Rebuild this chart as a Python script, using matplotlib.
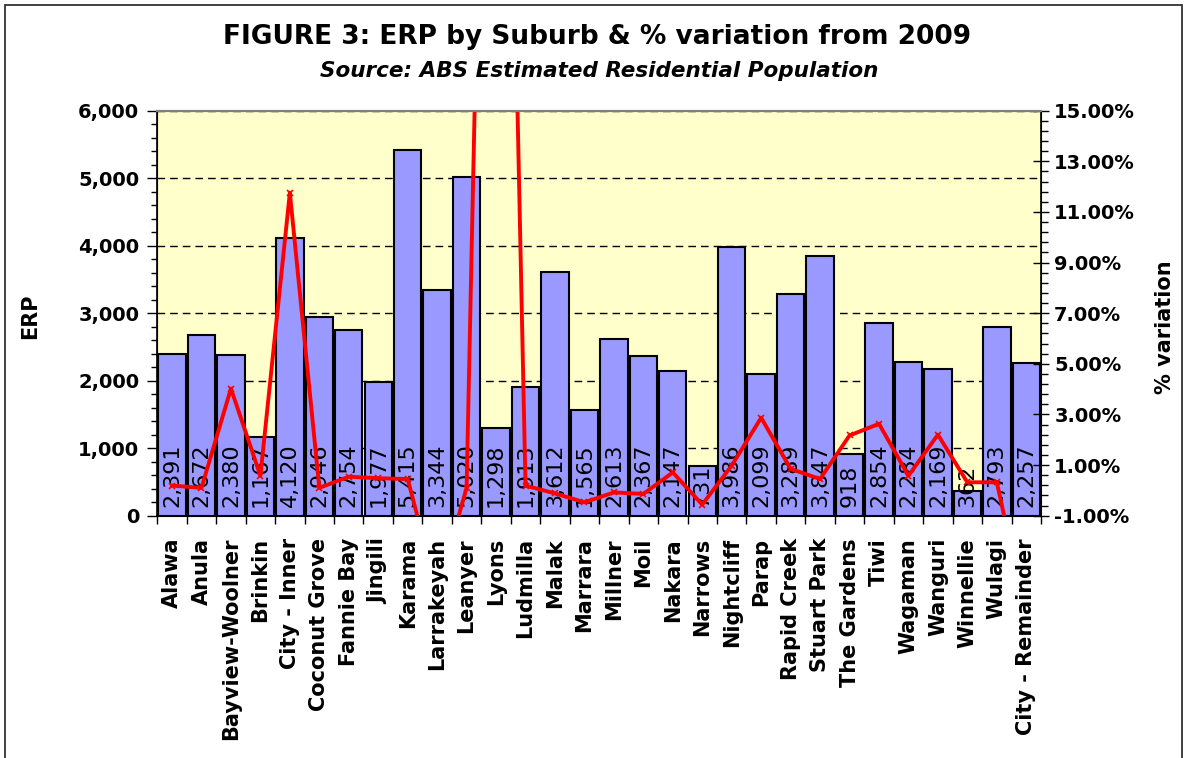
import numpy as np
import matplotlib
matplotlib.use('Agg')
import matplotlib.pyplot as plt
from matplotlib.ticker import MultipleLocator, FuncFormatter
from matplotlib.patches import Rectangle

suburbs = ['Alawa', 'Anula', 'Bayview-Woolner', 'Brinkin', 'City - Inner', 'Coconut Grove',
           'Fannie Bay', 'Jingili', 'Karama', 'Larrakeyah', 'Leanyer', 'Lyons', 'Ludmilla',
           'Malak', 'Marrara', 'Millner', 'Moil', 'Nakara', 'Narrows', 'Nightcliff', 'Parap',
           'Rapid Creek', 'Stuart Park', 'The Gardens', 'Tiwi', 'Wagaman', 'Wanguri',
           'Winnellie', 'Wulagi', 'City - Remainder']
erp = [2391, 2672, 2380, 1167, 4120, 2946, 2754, 1977, 5415, 3344, 5020, 1298, 1913,
       3612, 1565, 2613, 2367, 2147, 731, 3986, 2099, 3289, 3847, 918, 2854, 2284, 2169,
       362, 2793, 2257]
# % variation from 2009 (values outside -1..15 are clipped)
pct = [0.19, 0.10, 4.02, 0.58, 11.76, 0.10, 0.54, 0.48, 0.45, -4.0, 0.10, 54.9, 0.19,
       -0.12, -0.47, -0.08, -0.14, 0.71, -0.56, 0.98, 2.87, 0.85, 0.45, 2.17, 2.63, 0.58,
       2.20, 0.32, 0.32, -5.0]

plt.rcParams['font.family'] = ['DejaVu Sans']

W, H = 1186, 758
fig = plt.figure(figsize=(W / 100, H / 100), dpi=100)
ax = fig.add_axes([157.3 / W, 1 - 515.7 / H, (1041 - 157.3) / W, (515.7 - 110.7) / H])
ax.set_facecolor('#FFFFCC')

x = np.arange(len(suburbs))
ax.bar(x, erp, width=0.93, color='#9999FF', edgecolor='black', linewidth=1.5, zorder=2)
for i, v in enumerate(erp):
    ax.annotate(f'{v:,}', (i, 0), xytext=(0, 6), textcoords='offset points',
                rotation=90, ha='center', va='bottom', fontsize=16, zorder=3)

ax.set_xlim(-0.5, len(suburbs) - 0.5)
ax.set_ylim(0, 6000)
ax.set_xticks(x)
ax.set_xticklabels(suburbs, rotation=90, fontsize=15, fontweight='bold')
ax.set_xticks(np.arange(-0.5, len(suburbs)), minor=True)
ax.tick_params(axis='x', which='major', length=0, pad=16)
ax.tick_params(axis='x', which='minor', length=6, direction='out', width=1)

ax.yaxis.set_major_locator(MultipleLocator(1000))
ax.yaxis.set_minor_locator(MultipleLocator(200))
ax.yaxis.set_major_formatter(FuncFormatter(lambda v, p: f'{int(v):,}'))
ax.tick_params(axis='y', which='major', length=7, width=1, labelsize=14, pad=6)
ax.tick_params(axis='y', which='minor', length=4, width=1)
for lab in ax.get_yticklabels():
    lab.set_fontweight('bold')
ax.grid(axis='y', which='major', color='black', linestyle=(0, (5.5, 3.6)), linewidth=1, zorder=1)
ax.set_axisbelow(True)

ax.spines['top'].set_color('#808080')
ax.spines['top'].set_linewidth(1.5)
ax.spines['left'].set_linewidth(1.2)
ax.spines['bottom'].set_linewidth(1.2)

ax2 = ax.twinx()
ax2.plot(x, pct, color='red', linewidth=2.8, marker='x', markersize=4, markeredgewidth=1.2)
ax2.set_ylim(-1, 15)
ax2.set_yticks(np.arange(-1, 15.01, 2))
ax2.set_yticks(np.arange(-1, 15.01, 0.4), minor=True)
ax2.yaxis.set_major_formatter(FuncFormatter(lambda v, p: f'{v:.2f}%'))
ax2.tick_params(axis='y', which='major', direction='inout', length=11, width=1, labelsize=14, pad=4)
ax2.tick_params(axis='y', which='minor', direction='out', length=5, width=1)
for lab in ax2.get_yticklabels():
    lab.set_fontweight('bold')
ax2.spines['top'].set_color('#808080')
ax2.spines['top'].set_linewidth(1.5)
ax2.spines['right'].set_linewidth(1.2)

fig.text(30 / W, 1 - 316 / H, 'ERP', rotation=90, ha='center', va='center',
         fontsize=15, fontweight='bold')
fig.text(1165 / W, 1 - 327 / H, '% variation', rotation=90, ha='center', va='center',
         fontsize=15, fontweight='bold')

fig.text(597 / W, 1 - 37 / H, 'FIGURE 3: ERP by Suburb & % variation from 2009',
         ha='center', va='center', fontsize=19, fontweight='bold')
fig.text(599 / W, 1 - 71 / H, 'Source: ABS Estimated Residential Population',
         ha='center', va='center', fontsize=15.5, fontweight='bold', style='italic')

# chart frame
fig.patches.append(Rectangle((5 / W, -0.05), (1182 - 5) / W, 1.05 - 5 / H,
                             transform=fig.transFigure, fill=False,
                             edgecolor='#333333', linewidth=1.3))

fig.savefig('out.png', dpi=100)
